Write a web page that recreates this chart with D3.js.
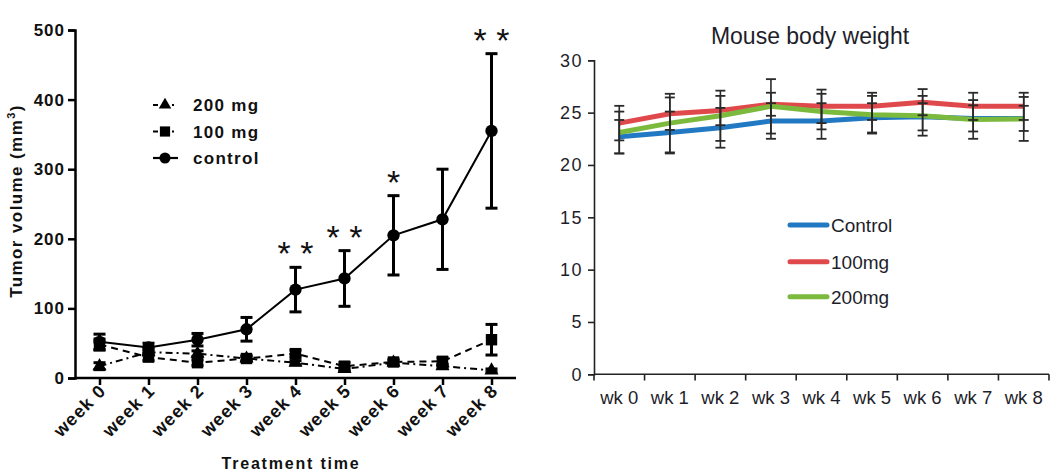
<!DOCTYPE html>
<html><head><meta charset="utf-8">
<script src="https://cdn.jsdelivr.net/npm/d3@7"></script>
<style>
html,body{margin:0;padding:0;background:#fff;}
svg{display:block;}
text{font-family:"Liberation Sans",Arial,sans-serif;}
</style></head>
<body>
<svg id="c" width="1050" height="476"></svg>
<script>
// ---------- Left chart data (tumor volume) ----------
const weeks = ["week 0","week 1","week 2","week 3","week 4","week 5","week 6","week 7","week 8"];
const tumorTicks = [0,100,200,300,400,500];
const controlVol = [52,44,55,70,127,143,205,228,355];
const controlErr = [11,6,9,17,32,40,57,72,111];
const mg100Vol = [48,30,22,28,35,17,23,24,55];
const mg100Err = [8,5,4,4,5,5,4,5,22];
const mg200Vol = [17,37,35,28,22,13,22,17,11];
const mg200Err = [5,4,4,3,3,3,3,3,2];
const significance = ["","","","","**","**","*","","**"];
const tumorLegend = ["200 mg","100 mg","control"];

// ---------- Right chart data (body weight) ----------
const wks = ["wk 0","wk 1","wk 2","wk 3","wk 4","wk 5","wk 6","wk 7","wk 8"];
const weightTicks = [0,5,10,15,20,25,30];
const ctrlW = [22.7,23.1,23.55,24.2,24.2,24.5,24.6,24.45,24.45];
const ctrlWErr = [1.6,2.0,1.9,1.7,1.7,1.4,1.3,1.25,1.2];
const w100 = [24.0,24.9,25.2,25.8,25.6,25.6,26.0,25.6,25.6];
const w100Err = [1.65,1.55,1.4,1.1,1.6,1.3,1.25,1.3,1.3];
const w200 = [23.1,24.0,24.7,25.6,25.1,24.8,24.7,24.35,24.4];
const w200Err = [2.0,2.8,2.4,2.6,1.7,1.8,1.9,1.85,2.1];
const weightLegend = ["Control","100mg","200mg"];

const svg = d3.select("#c");

// ================= LEFT CHART =================
(function(){
  const g = svg.append("g");
  const x = d3.scalePoint().domain(weeks).range([75,516]).padding(0.5);
  const y = d3.scaleLinear().domain([0,500]).range([378,30]);
  const bold = "bold";

  const yAx = g.append("g").attr("transform","translate(75,0)")
    .call(d3.axisLeft(y).tickValues(tumorTicks).tickSize(7).tickPadding(3));
  yAx.select(".domain").attr("stroke","#000").attr("stroke-width",2.5);
  yAx.selectAll(".tick line").attr("stroke","#000").attr("stroke-width",2.5);
  yAx.selectAll(".tick text").attr("font-size",17).attr("font-weight",bold)
     .attr("fill","#111").style("letter-spacing","1px").attr("font-family","Liberation Sans, Arial, sans-serif");

  const xAx = g.append("g").attr("transform","translate(0,378)")
    .call(d3.axisBottom(x).tickSize(7).tickSizeOuter(0));
  xAx.select(".domain").attr("stroke","#000").attr("stroke-width",2.5).attr("d","M75,0H516");
  xAx.selectAll(".tick line").attr("stroke","#000").attr("stroke-width",2.5);
  xAx.selectAll(".tick text").attr("font-size",18).attr("font-weight",bold).attr("fill","#111")
     .style("letter-spacing","1px").attr("font-family","Liberation Sans, Arial, sans-serif")
     .attr("text-anchor","end").attr("dy",null).attr("y",null)
     .attr("transform","translate(7,14) rotate(-45)");

  const yt = g.append("text").attr("transform","translate(22,201) rotate(-90)")
    .attr("text-anchor","middle").attr("font-size",17).attr("font-weight",bold).attr("fill","#111")
    .style("letter-spacing","1.4px");
  yt.append("tspan").text("Tumor volume (mm");
  yt.append("tspan").text("3").attr("font-size",11).attr("dy",-7);
  yt.append("tspan").text(")").attr("dy",7);

  g.append("text").attr("x",291).attr("y",469).attr("text-anchor","middle")
    .attr("font-size",16).attr("font-weight",bold).attr("fill","#111").style("letter-spacing","1.8px")
    .text("Treatment time");

  const series = [
    {vals:mg200Vol, err:mg200Err, dash:"7,4,2,4", marker:"triangle"},
    {vals:mg100Vol, err:mg100Err, dash:"7,5", marker:"square"},
    {vals:controlVol, err:controlErr, dash:null, marker:"circle"}
  ];
  const line = d3.line().x((d,i)=>x(weeks[i])).y(d=>y(d));
  const sym = {triangle:d3.symbolTriangle, square:d3.symbolSquare, circle:d3.symbolCircle};
  const symSize = {triangle:85, square:130, circle:120};

  series.forEach(s=>{
    const sg = g.append("g");
    sg.append("path").attr("d",line(s.vals)).attr("fill","none").attr("stroke","#000")
      .attr("stroke-width",2).attr("stroke-dasharray",s.dash);
    s.vals.forEach((v,i)=>{
      const cx = x(weeks[i]);
      const e = s.err[i];
      sg.append("line").attr("x1",cx).attr("x2",cx).attr("y1",y(v+e)).attr("y2",y(v-e))
        .attr("stroke","#000").attr("stroke-width",3);
      [v+e,v-e].forEach(t=>sg.append("line").attr("x1",cx-6).attr("x2",cx+6)
        .attr("y1",y(t)).attr("y2",y(t)).attr("stroke","#000").attr("stroke-width",3));
      sg.append("path").attr("transform",`translate(${cx},${y(v)})`)
        .attr("d",d3.symbol().type(sym[s.marker]).size(symSize[s.marker])()).attr("fill","#000");
    });
  });

  // significance stars
  g.selectAll("text.sig").data(significance).join("text").attr("class","sig")
    .attr("x",(d,i)=>x(weeks[i]))
    .attr("y",(d,i)=>y(controlVol[i]+controlErr[i])-2)
    .attr("text-anchor","middle").attr("font-size",34).attr("fill","#111")
    .text(d=>d.split("").join(" "));

  // legend
  const rows = [105,131.5,158];
  const legDash = ["5,14,2,20","5,14,2,20",null];
  const legMark = ["triangle","square","circle"];
  tumorLegend.forEach((t,i)=>{
    g.append("line").attr("x1",153).attr("x2",178).attr("y1",rows[i]).attr("y2",rows[i])
      .attr("stroke","#000").attr("stroke-width",2.2).attr("stroke-dasharray",legDash[i]);
    g.append("path").attr("transform",`translate(165,${rows[i]})`)
      .attr("d",d3.symbol().type(sym[legMark[i]]).size(symSize[legMark[i]]*0.8)()).attr("fill","#000");
    g.append("text").attr("x",193).attr("y",rows[i]).attr("dy","0.36em")
      .attr("font-size",17).attr("font-weight",bold).attr("fill","#111").style("letter-spacing","1.3px").text(t);
  });
})();

// ================= RIGHT CHART =================
(function(){
  const g = svg.append("g");
  const x = d3.scaleBand().domain(wks).range([594,1049]);
  const y = d3.scaleLinear().domain([0,30]).range([374.3,60.3]);
  const ink = "#1e1e2a";

  g.append("text").attr("x",810).attr("y",44).attr("text-anchor","middle")
    .attr("font-size",23).attr("fill",ink).text("Mouse body weight");

  const yAx = g.append("g").attr("transform","translate(594,0)")
    .call(d3.axisLeft(y).tickValues(weightTicks).tickSize(6).tickPadding(5));
  yAx.select(".domain").attr("stroke","#222").attr("stroke-width",1.6);
  yAx.selectAll(".tick line").attr("stroke","#222").attr("stroke-width",1.6);
  yAx.selectAll(".tick text").attr("font-size",18).attr("fill",ink)
    .style("letter-spacing","1.5px").attr("font-family","Liberation Sans, Arial, sans-serif");

  const xAx = g.append("g").attr("transform","translate(0,374.3)")
    .call(d3.axisBottom(x).tickSize(0).tickPadding(17));
  xAx.select(".domain").attr("stroke","#222").attr("stroke-width",1.6).attr("d","M594,0H1049");
  xAx.selectAll(".tick text").attr("font-size",18.5).attr("fill",ink)
    .attr("font-family","Liberation Sans, Arial, sans-serif");
  const bounds = wks.map(w=>x(w)).concat([x(wks[wks.length-1])+x.bandwidth()]);
  g.selectAll("line.bt").data(bounds).join("line").attr("class","bt")
    .attr("x1",d=>d).attr("x2",d=>d).attr("y1",374.3).attr("y2",380.5)
    .attr("stroke","#222").attr("stroke-width",1.6);

  const cx = w=>x(w)+x.bandwidth()/2;
  const series = [
    {vals:ctrlW, err:ctrlWErr, color:"#2179c3"},
    {vals:w100, err:w100Err, color:"#e0494b"},
    {vals:w200, err:w200Err, color:"#7cba3e"}
  ];
  const line = d3.line().x((d,i)=>cx(wks[i])).y(d=>y(d));
  series.forEach(s=>{
    g.append("path").attr("d",line(s.vals)).attr("fill","none").attr("stroke",s.color)
      .attr("stroke-width",5).attr("stroke-linejoin","round");
  });
  series.forEach(s=>{
    s.vals.forEach((v,i)=>{
      const px = cx(wks[i]);
      g.append("line").attr("x1",px).attr("x2",px).attr("y1",y(v+s.err[i])).attr("y2",y(v-s.err[i]))
        .attr("stroke","#2a2a2a").attr("stroke-width",1.6);
      [v+s.err[i],v-s.err[i]].forEach(t=>g.append("line").attr("x1",px-5).attr("x2",px+5)
        .attr("y1",y(t)).attr("y2",y(t)).attr("stroke","#2a2a2a").attr("stroke-width",1.8));
    });
  });

  const rows = [225,261.7,296.7];
  weightLegend.forEach((t,i)=>{
    g.append("line").attr("x1",790).attr("x2",827).attr("y1",rows[i]).attr("y2",rows[i])
      .attr("stroke",series[i].color).attr("stroke-width",5).attr("stroke-linecap","round");
    g.append("text").attr("x",831).attr("y",rows[i]).attr("dy","0.36em")
      .attr("font-size",19).attr("fill",ink).text(t);
  });
})();
</script>
</body></html>
